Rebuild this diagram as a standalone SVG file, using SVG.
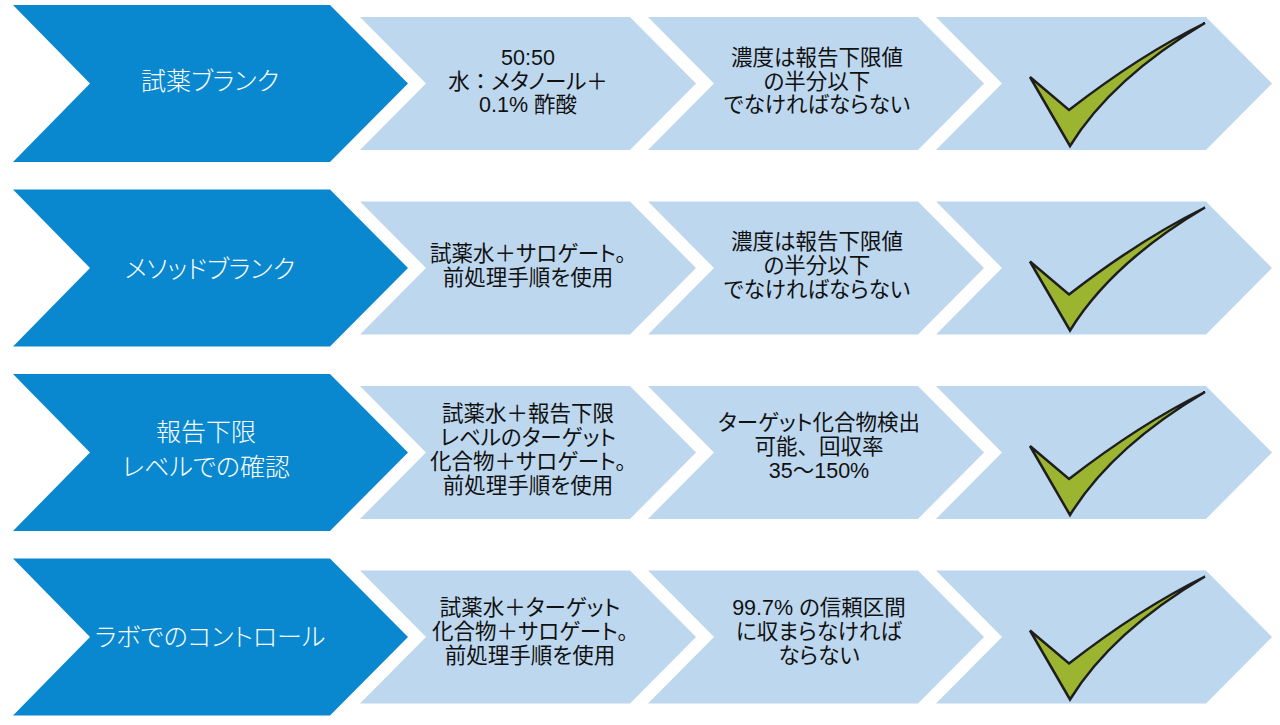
<svg xmlns="http://www.w3.org/2000/svg" xmlns:xlink="http://www.w3.org/1999/xlink" width="1280" height="725" viewBox="0 0 1280 725">
  <style>
    .dark { fill: #0A88CF; }
    .light { fill: #BDD7EE; }
    .check { fill: #9CB530; stroke: #1E1E1E; stroke-width: 2.5; stroke-linejoin: miter; }
    .t-dark { fill: #FFFFFF; font-family: "Noto Sans CJK JP", "Liberation Sans", sans-serif; font-size: 25px; font-weight: 300; text-anchor: middle; font-feature-settings: "palt" 1; }
    .t-light { fill: #111111; font-family: "Liberation Sans", "Noto Sans CJK JP", sans-serif; font-size: 21.5px; text-anchor: middle; font-feature-settings: "palt" 1; }
    .full { font-feature-settings: normal; }
  </style>
  <defs>
    <path id="chevDark" d="M13,5 L330,5 L408,83.5 L330,162 L13,162 L90,83.5 Z"/>
    <path id="chevLight" d="M0,17 L270,17 L336,83.5 L270,150 L0,150 L66,83.5 Z"/>
    <path id="tick" d="M1030,77 L1069,110 Q1140,55 1205,23 Q1112,78 1070,146 Z"/>
  </defs>
  <rect width="1280" height="725" fill="#FFFFFF"/>

  <!-- Row 1 -->
  <g id="row1-title">
    <use xlink:href="#chevDark" class="dark"/>
    <text class="t-dark" x="210" y="90">試薬ブランク</text>
  </g>
  <g id="row1-sample">
    <use xlink:href="#chevLight" class="light" transform="translate(360,0)"/>
    <text class="t-light" x="528" y="65">50:50</text>
    <text class="t-light" x="528" y="89">水<tspan class="full">：</tspan>メタノール＋</text>
    <text class="t-light" x="528" y="112">0.1% 酢酸</text>
  </g>
  <g id="row1-criterion">
    <use xlink:href="#chevLight" class="light" transform="translate(648,0)"/>
    <text class="t-light" x="817" y="65">濃度は報告下限値</text>
    <text class="t-light" x="817" y="89">の半分以下</text>
    <text class="t-light" x="817" y="112">でなければならない</text>
  </g>
  <g id="row1-check">
    <use xlink:href="#chevLight" class="light" transform="translate(936,0)"/>
    <use xlink:href="#tick" class="check"/>
  </g>

  <!-- Row 2 -->
  <g id="row2-title">
    <use xlink:href="#chevDark" class="dark" transform="translate(0,184.5)"/>
    <text class="t-dark" x="210" y="278">メソッドブランク</text>
  </g>
  <g id="row2-sample">
    <use xlink:href="#chevLight" class="light" transform="translate(360,184.5)"/>
    <text class="t-light" x="528" y="261">試薬水＋サロゲート。</text>
    <text class="t-light" x="528" y="285">前処理手順を使用</text>
  </g>
  <g id="row2-criterion">
    <use xlink:href="#chevLight" class="light" transform="translate(648,184.5)"/>
    <text class="t-light" x="817" y="249">濃度は報告下限値</text>
    <text class="t-light" x="817" y="273">の半分以下</text>
    <text class="t-light" x="817" y="297">でなければならない</text>
  </g>
  <g id="row2-check">
    <use xlink:href="#chevLight" class="light" transform="translate(936,184.5)"/>
    <use xlink:href="#tick" class="check" transform="translate(0,184.5)"/>
  </g>

  <!-- Row 3 -->
  <g id="row3-title">
    <use xlink:href="#chevDark" class="dark" transform="translate(0,369)"/>
    <text class="t-dark" x="206" y="441">報告下限</text>
    <text class="t-dark" x="206" y="476">レベルでの確認</text>
  </g>
  <g id="row3-sample">
    <use xlink:href="#chevLight" class="light" transform="translate(360,369)"/>
    <text class="t-light" x="528" y="421">試薬水＋報告下限</text>
    <text class="t-light" x="528" y="445">レベルのターゲット</text>
    <text class="t-light" x="528" y="469">化合物＋サロゲート。</text>
    <text class="t-light" x="528" y="493">前処理手順を使用</text>
  </g>
  <g id="row3-criterion">
    <use xlink:href="#chevLight" class="light" transform="translate(648,369)"/>
    <text class="t-light" x="819" y="430">ターゲット化合物検出</text>
    <text class="t-light" x="819" y="454">可能<tspan class="full">、</tspan>回収率</text>
    <text class="t-light" x="819" y="478">35～150%</text>
  </g>
  <g id="row3-check">
    <use xlink:href="#chevLight" class="light" transform="translate(936,369)"/>
    <use xlink:href="#tick" class="check" transform="translate(0,369)"/>
  </g>

  <!-- Row 4 -->
  <g id="row4-title">
    <use xlink:href="#chevDark" class="dark" transform="translate(0,553.5)"/>
    <text class="t-dark" x="210" y="646">ラボでのコントロール</text>
  </g>
  <g id="row4-sample">
    <use xlink:href="#chevLight" class="light" transform="translate(360,553.5)"/>
    <text class="t-light" x="530" y="615">試薬水＋ターゲット</text>
    <text class="t-light" x="530" y="639">化合物＋サロゲート。</text>
    <text class="t-light" x="530" y="663">前処理手順を使用</text>
  </g>
  <g id="row4-criterion">
    <use xlink:href="#chevLight" class="light" transform="translate(648,553.5)"/>
    <text class="t-light" x="819" y="615">99.7% の信頼区間</text>
    <text class="t-light" x="819" y="639">に収まらなければ</text>
    <text class="t-light" x="819" y="663">ならない</text>
  </g>
  <g id="row4-check">
    <use xlink:href="#chevLight" class="light" transform="translate(936,553.5)"/>
    <use xlink:href="#tick" class="check" transform="translate(0,553.5)"/>
  </g>

  <g id="connectors"></g>
</svg>
